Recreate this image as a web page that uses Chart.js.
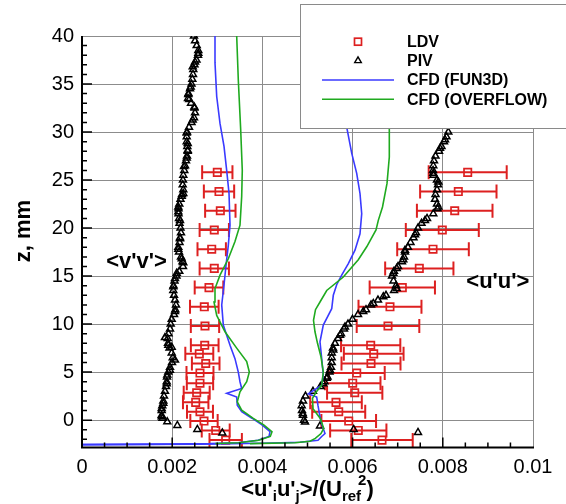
<!DOCTYPE html>
<html>
<head>
<meta charset="utf-8">
<script src="https://cdn.jsdelivr.net/npm/chart.js@4.4.1/dist/chart.umd.min.js"></script>
<style>
  html, body { margin: 0; padding: 0; background: #fff; }
  #wrap { width: 566px; height: 504px; }
</style>
</head>
<body>
<div id="wrap"><canvas id="chart" width="566" height="504"></canvas></div>
<script>
// axis ticks
const xTicks = [0, 0.002, 0.004, 0.006, 0.008, 0.01];
const xTickLabels = ["0", "0.002", "0.004", "0.006", "0.008", "0.01"];
const yTicks = [0, 5, 10, 15, 20, 25, 30, 35, 40];
const yTickLabels = ["0", "5", "10", "15", "20", "25", "30", "35", "40"];

// LDV (same heights for both components)
const ldvZ = [25.8, 23.8, 21.8, 19.8, 17.8, 15.8, 13.8, 11.8, 9.8, 7.8, 6.9, 5.9, 4.9, 3.85, 2.85, 1.85, 0.87, -0.1, -1.07, -2.08];
const ldvVv = [0.0030, 0.003038, 0.003067, 0.002933, 0.002876, 0.002933, 0.002816, 0.002712, 0.002727, 0.002721, 0.002601, 0.002743, 0.002616, 0.002616, 0.002543, 0.002521, 0.002616, 0.002705, 0.002965, 0.003186];
const ldvVvErr = [0.000336, 0.000336, 0.000337, 0.000325, 0.000315, 0.000325, 0.000317, 0.000317, 0.000314, 0.000307, 0.00031, 0.000306, 0.000299, 0.000292, 0.000288, 0.000282, 0.000288, 0.000303, 0.00031, 0.000359];
const ldvUu = [0.008552, 0.008344, 0.008264, 0.007989, 0.007783, 0.007479, 0.007102, 0.006829, 0.006785, 0.006401, 0.006468, 0.006408, 0.006091, 0.006002, 0.006047, 0.005632, 0.005692, 0.005914, 0.006126, 0.006652];
const ldvUuErr = [0.000865, 0.000847, 0.000838, 0.000809, 0.000794, 0.000757, 0.000724, 0.000698, 0.000694, 0.000657, 0.000662, 0.000654, 0.000621, 0.000616, 0.000613, 0.000572, 0.000588, 0.000606, 0.000624, 0.000681];

// PIV <v'v'>
const pivVvZ = [-1.33, -0.97, -0.55, -0.18, 0.2, 0.35, 0.5, 1.0, 1.2, 1.5, 1.75, 2.0, 2.5, 3.0, 3.5, 3.8, 4.0, 4.5, 4.7, 5.0,
  5.2, 5.5, 6.0, 6.25, 6.5, 7.0, 7.5, 7.6, 7.8, 8.0, 8.5, 8.6, 9.0, 9.5, 10.0, 10.5, 11.0, 11.3, 11.5, 12.0,
  12.5, 13.0, 13.5, 13.9, 14.0, 14.5, 14.76, 15.0, 15.3, 15.5, 16.0, 16.4, 16.5, 16.8, 17.0, 17.5, 17.8, 18.0, 18.5, 18.9,
  19.0, 19.5, 20.0, 20.5, 20.8, 21.0, 21.5, 21.7, 22.0, 22.2, 22.5, 23.0, 23.3, 23.5, 23.6, 24.0, 24.5, 25.0, 25.5, 26.0,
  26.4, 26.5, 27.0, 27.3, 27.5, 28.0, 28.1, 28.5, 28.8, 29.0, 29.5, 29.9, 30.0, 30.5, 31.0, 31.25, 31.5, 32.0, 32.5, 32.6,
  33.0, 33.4, 33.5, 33.9, 34.0, 34.5, 34.7, 35.0, 35.5, 36.0, 36.5, 36.8, 37.0, 37.3, 37.5, 38.0, 38.2, 38.5, 39.0, 39.5, 40.0];
const pivVv = [0.003111, 0.002557, 0.002114, 0.001891, 0.001785, 0.001767, 0.001767, 0.001767, 0.001767, 0.00178, 0.001803, 0.001803, 0.001818, 0.00184, 0.001863, 0.001878, 0.001878, 0.001885, 0.001891, 0.001914,
  0.001951, 0.001951, 0.001996, 0.002062, 0.002011, 0.001989, 0.00194, 0.001989, 0.001914, 0.001907, 0.0019, 0.00184, 0.001918, 0.001951, 0.001967, 0.001989, 0.00204, 0.002062, 0.002069, 0.002084,
  0.002062, 0.00204, 0.002024, 0.002024, 0.002029, 0.002051, 0.002062, 0.002095, 0.0021, 0.002157, 0.002239, 0.002246, 0.002228, 0.002211, 0.002195, 0.002151, 0.002135, 0.002135, 0.002162, 0.002173,
  0.002173, 0.002195, 0.002184, 0.002162, 0.002173, 0.002151, 0.00214, 0.002135, 0.00214, 0.002135, 0.002157, 0.002184, 0.002211, 0.002217, 0.002246, 0.002246, 0.002233, 0.002239, 0.002246, 0.002268,
  0.002262, 0.002284, 0.002306, 0.002322, 0.002328, 0.002344, 0.002344, 0.002335, 0.002344, 0.002322, 0.002322, 0.002322, 0.002328, 0.002373, 0.002428, 0.002455, 0.002483, 0.002506, 0.002494, 0.00249,
  0.002417, 0.002379, 0.00235, 0.002357, 0.002361, 0.002395, 0.00241, 0.002428, 0.002446, 0.002461, 0.002468, 0.002455, 0.002494, 0.002506, 0.002539, 0.002572, 0.002579, 0.002579, 0.002543, 0.002506, 0.002483];

// PIV <u'u'>
const pivUuZ = [-1.28, -0.97, -0.6, -0.2, 0.0, 0.5, 0.7, 1.0, 1.5, 2.0, 2.5, 3.0, 3.5, 3.8, 4.0, 4.35, 4.5, 5.0, 5.2, 5.5,
  6.0, 6.5, 7.0, 7.3, 7.5, 8.0, 8.5, 8.85, 9.0, 9.5, 9.7, 10.0, 10.5, 11.0, 11.3, 11.5, 12.0, 12.15, 12.5, 12.85,
  13.0, 13.5, 13.7, 14.0, 14.5, 15.0, 15.3, 15.5, 15.8, 16.0, 16.5, 16.7, 17.0, 17.5, 17.7, 18.0, 18.5, 19.0, 19.3, 19.5,
  20.0, 20.5, 20.8, 21.0, 21.5, 22.0, 22.2, 22.5, 23.0, 23.5, 24.0, 24.5, 24.8, 25.0, 25.5, 25.7, 26.0, 26.5, 27.0, 27.5,
  28.0, 28.3, 28.5, 29.0, 29.2, 29.5, 30.0];
const pivUu = [0.00745, 0.006024, 0.005277, 0.004945, 0.004922, 0.0049, 0.004894, 0.004878, 0.004871, 0.0049, 0.004956, 0.005122, 0.005288, 0.00535, 0.005377, 0.005426, 0.005443, 0.005488, 0.005499, 0.005521,
  0.005537, 0.005537, 0.005537, 0.005572, 0.005565, 0.00561, 0.005676, 0.005721, 0.005743, 0.005809, 0.005831, 0.005898, 0.005998, 0.00612, 0.006237, 0.006297, 0.006408, 0.006459, 0.006563, 0.006681,
  0.006741, 0.006918, 0.006978, 0.006962, 0.006907, 0.006874, 0.006902, 0.006918, 0.006978, 0.007007, 0.007095, 0.007124, 0.00714, 0.007162, 0.007162, 0.007228, 0.007284, 0.00735, 0.007384, 0.007406,
  0.00745, 0.007528, 0.007605, 0.00765, 0.007789, 0.007882, 0.0079, 0.007871, 0.007827, 0.007838, 0.007871, 0.007894, 0.0079, 0.007871, 0.007794, 0.007789, 0.007783, 0.007789, 0.007805, 0.007838,
  0.007916, 0.007938, 0.007971, 0.008027, 0.008049, 0.008082, 0.008122];

// CFD (FUN3D)
const fun3dVvZ = [-2.55, -2.5, -2.45, -2.35, -2.1, -1.7, -1.2, -0.5, 0.2, 0.87, 1.56, 2.4, 2.8, 3.3, 4.0, 5.0, 6.4, 7.8, 9.9, 12.0, 14.1, 16.1, 18.2, 20.3, 23.6, 26.0, 28.5, 30.9, 33.7, 37.2, 40.0];
const fun3dVv = [0, 0.001951, 0.002838, 0.003459, 0.003902, 0.004146, 0.004169, 0.003991, 0.003769, 0.003541, 0.003443, 0.00343, 0.003208, 0.003541, 0.003503, 0.003466, 0.003392, 0.003282, 0.003133, 0.003098, 0.003149, 0.003193, 0.003244, 0.003282, 0.00326, 0.003208, 0.003149, 0.00306, 0.002987, 0.002949, 0.002949];
const fun3dUuZ = [-2.55, -2.5, -2.4, -2.3, -2.1, -1.7, -1.4, -0.5, 0.35, 1.5, 2.4, 2.75, 3.65, 4.7, 6.4, 8.15, 9.9, 11.6, 13.0, 14.1, 15.1, 16.3, 17.7, 19.4, 21.5, 23.6, 25.7, 27.8, 30.2, 32.0];
const fun3dUu = [0, 0.002616, 0.003991, 0.004834, 0.005233, 0.005315, 0.005388, 0.005322, 0.005277, 0.005233, 0.005204, 0.005018, 0.005315, 0.00535, 0.005315, 0.005277, 0.00535, 0.005537, 0.005572, 0.005647, 0.005758, 0.005905, 0.006053, 0.006164, 0.006202, 0.006164, 0.006091, 0.00598, 0.005882, 0.005809];

// CFD (OVERFLOW)
const overVvZ = [-2.43, -2.35, -2.1, -1.7, -1.2, -0.5, 0.18, 1.04, 1.9, 2.95, 4.0, 5.0, 6.1, 7.5, 9.2, 10.9, 12.3, 13.7, 15.1, 16.8, 18.6, 20.3, 23.3, 26.0, 30.2, 35.4, 40.0];
const overVv = [0.002956, 0.003474, 0.003918, 0.004175, 0.004213, 0.004029, 0.003798, 0.003541, 0.003443, 0.003503, 0.003652, 0.00371, 0.003652, 0.00343, 0.003171, 0.002987, 0.002927, 0.002949, 0.00306, 0.003244, 0.003392, 0.003503, 0.003541, 0.003554, 0.003519, 0.003466, 0.00343];
const overUuZ = [-2.45, -2.35, -2.2, -1.9, -1.4, -0.87, 0.18, 1.2, 2.26, 2.9, 3.65, 5.0, 6.6, 8.0, 9.2, 10.4, 11.5, 12.3, 13.5, 14.9, 16.7, 18.05, 19.8, 20.8, 22.2, 24.65, 27.4, 30.2, 32.0];
const overUu = [0.003725, 0.004723, 0.005055, 0.005173, 0.005299, 0.005359, 0.005284, 0.005122, 0.005111, 0.005188, 0.005315, 0.00535, 0.005299, 0.005222, 0.005166, 0.005133, 0.005177, 0.005277, 0.005426, 0.005794, 0.006126, 0.006313, 0.006519, 0.00657, 0.006663, 0.006763, 0.006814, 0.006814, 0.006807];

const RED = "#dd2020";
const BLUE = "#3a3aff";
const GREEN = "#1faa1f";
const FONT = "'Liberation Sans', Arial, Helvetica, sans-serif";

function pts(xs, zs) {
    return xs.map((v, i) => ({ x: v, y: zs[i] }));
}

const markerSet = (label, data, style, color, radius, width, order) => ({
    label: label, data: data, showLine: false,
    pointStyle: style, pointRadius: radius, pointBorderWidth: width,
    pointBorderColor: color, pointBackgroundColor: "rgba(0,0,0,0)",
    borderColor: color, order: order
});
const lineSet = (label, data, color, order) => ({
    label: label, data: data, showLine: true, pointRadius: 0,
    borderColor: color, borderWidth: 1.6, tension: 0, fill: false, order: order
});

const datasets = [
    Object.assign(markerSet("LDV", pts(ldvVv, ldvZ), "rect", RED, 5.2, 1.7, 4), { errors: ldvVvErr }),
    Object.assign(markerSet("LDV", pts(ldvUu, ldvZ), "rect", RED, 5.2, 1.7, 4), { errors: ldvUuErr }),
    markerSet("PIV", pts(pivVv, pivVvZ), "triangle", "#000", 4, 1.5, 3),
    markerSet("PIV", pts(pivUu, pivUuZ), "triangle", "#000", 4, 1.5, 3),
    lineSet("CFD (FUN3D)", pts(fun3dVv, fun3dVvZ), BLUE, 2),
    lineSet("CFD (FUN3D)", pts(fun3dUu, fun3dUuZ), BLUE, 2),
    lineSet("CFD (OVERFLOW)", pts(overVv, overVvZ), GREEN, 1),
    lineSet("CFD (OVERFLOW)", pts(overUu, overUuZ), GREEN, 1)
];

// error bars, axes, inward ticks, labels and legend box
const decor = {
    id: "decor",
    beforeDatasetsDraw(chart) {
        const { ctx, scales: { x, y } } = chart;
        ctx.save();
        chart.data.datasets.forEach(ds => {
            if (!ds.errors) return;
            ctx.strokeStyle = ds.borderColor;
            ctx.lineWidth = 2;
            ds.data.forEach((p, i) => {
                const e = ds.errors[i];
                const x1 = x.getPixelForValue(p.x - e);
                const x2 = x.getPixelForValue(p.x + e);
                const py = y.getPixelForValue(p.y);
                ctx.beginPath();
                ctx.moveTo(x1, py); ctx.lineTo(x2, py);
                ctx.moveTo(x1, py - 7); ctx.lineTo(x1, py + 7);
                ctx.moveTo(x2, py - 7); ctx.lineTo(x2, py + 7);
                ctx.stroke();
            });
        });
        ctx.restore();
    },
    afterDatasetsDraw(chart) {
        const { ctx, chartArea: a, scales: { x, y } } = chart;
        ctx.save();

        // axis lines
        ctx.strokeStyle = "#000";
        ctx.lineWidth = 2;
        ctx.beginPath();
        ctx.moveTo(a.left, a.top);
        ctx.lineTo(a.left, a.bottom);
        ctx.lineTo(a.right + 1, a.bottom);
        ctx.stroke();

        // ticks pointing into the plot
        ctx.lineWidth = 1.5;
        ctx.beginPath();
        for (let i = 1; i < 20; i++) {
            const px = x.getPixelForValue(i * 0.0005);
            const len = i % 4 === 0 ? 10 : 5;
            ctx.moveTo(px, a.bottom); ctx.lineTo(px, a.bottom - len);
        }
        for (let z = -2; z <= 39; z++) {
            const py = y.getPixelForValue(z);
            const len = z % 5 === 0 ? 10 : 5;
            ctx.moveTo(a.left, py); ctx.lineTo(a.left + len, py);
        }
        ctx.stroke();

        // curve labels
        ctx.fillStyle = "#000";
        ctx.font = "bold 22px " + FONT;
        ctx.textAlign = "center";
        ctx.textBaseline = "middle";
        ctx.fillText("<v'v'>", x.getPixelForValue(0.00121), y.getPixelForValue(16.5));
        ctx.fillText("<u'u'>", x.getPixelForValue(0.00922), y.getPixelForValue(14.4));

        // legend box
        ctx.fillStyle = "#fff";
        ctx.strokeStyle = "#8a8a8a";
        ctx.lineWidth = 1;
        ctx.fillRect(300.5, 4.5, 270, 124);
        ctx.strokeRect(300.5, 4.5, 270, 124);

        const rows = [41.7, 60.7, 80, 99.3];
        // LDV symbol
        ctx.strokeStyle = RED;
        ctx.lineWidth = 1.7;
        ctx.strokeRect(354.5, rows[0] - 3.5, 7, 7);
        // PIV symbol
        ctx.strokeStyle = "#000";
        ctx.lineWidth = 1.4;
        ctx.beginPath();
        ctx.moveTo(358, rows[1] - 3.8);
        ctx.lineTo(361.3, rows[1] + 1.9);
        ctx.lineTo(354.7, rows[1] + 1.9);
        ctx.closePath();
        ctx.stroke();
        // line samples
        ctx.lineWidth = 1.6;
        ctx.strokeStyle = BLUE;
        ctx.beginPath(); ctx.moveTo(322, rows[2]); ctx.lineTo(394, rows[2]); ctx.stroke();
        ctx.strokeStyle = GREEN;
        ctx.beginPath(); ctx.moveTo(322, rows[3]); ctx.lineTo(394, rows[3]); ctx.stroke();

        ctx.fillStyle = "#000";
        ctx.font = "bold 16px " + FONT;
        ctx.textAlign = "left";
        ctx.textBaseline = "middle";
        ["LDV", "PIV", "CFD (FUN3D)", "CFD (OVERFLOW)"].forEach((t, i) => ctx.fillText(t, 407, rows[i] + 1));

        // y title
        ctx.save();
        ctx.translate(24, 231);
        ctx.rotate(-Math.PI / 2);
        ctx.font = "bold 22px " + FONT;
        ctx.textAlign = "center";
        ctx.textBaseline = "middle";
        ctx.fillText("z, mm", 0, 0);
        ctx.restore();

        // x title with sub/superscripts
        const parts = [
            ["<u'", 0], ["i", 1], ["u'", 0], ["j", 1], [">/(U", 0], ["ref", 1], ["2", 2], [")", 0]
        ];
        const big = "bold 22px " + FONT;
        const small = "bold 15px " + FONT;
        const widths = parts.map(([t, k]) => {
            ctx.font = k ? small : big;
            return ctx.measureText(t).width;
        });
        let total = 0;
        parts.forEach(([t, k], i) => { total += k === 2 ? widths[i] - 3 : widths[i]; });
        let cx = (a.left + a.right) / 2 - total / 2;
        const base = 496;
        ctx.textAlign = "left";
        ctx.textBaseline = "alphabetic";
        parts.forEach(([t, k], i) => {
            ctx.font = k ? small : big;
            if (k === 1) { ctx.fillText(t, cx, base + 5); cx += widths[i]; }
            else if (k === 2) { ctx.fillText(t, cx - 3, base - 11); cx += widths[i] - 3; }
            else { ctx.fillText(t, cx, base); cx += widths[i]; }
        });

        ctx.restore();
    }
};

new Chart(document.getElementById("chart"), {
    type: "scatter",
    data: { datasets: datasets },
    options: {
        responsive: false,
        animation: false,
        devicePixelRatio: 1,
        layout: { padding: { top: 36, right: 33, left: 0, bottom: 0 } },
        plugins: { legend: { display: false }, tooltip: { enabled: false } },
        scales: {
            x: {
                type: "linear", min: 0, max: 0.01,
                afterBuildTicks: s => { s.ticks = xTicks.map(v => ({ value: v })); },
                afterFit: s => { s.height = 56.5; },
                grid: { color: "#8c8c8c", lineWidth: 1, drawTicks: false },
                border: { display: false },
                ticks: {
                    autoSkip: false, maxRotation: 0, padding: 8, color: "#000",
                    font: { family: FONT, size: 20 },
                    callback: v => xTickLabels[xTicks.indexOf(v)]
                }
            },
            y: {
                type: "linear", min: -2.85, max: 40,
                afterBuildTicks: s => { s.ticks = yTicks.map(v => ({ value: v })); },
                afterFit: s => { s.width = 82; },
                grid: { color: "#8c8c8c", lineWidth: 1, drawTicks: false },
                border: { display: false },
                ticks: {
                    autoSkip: false, padding: 8, color: "#000",
                    font: { family: FONT, size: 20 },
                    callback: v => yTickLabels[yTicks.indexOf(v)]
                }
            }
        }
    },
    plugins: [decor]
});
</script>
</body>
</html>
